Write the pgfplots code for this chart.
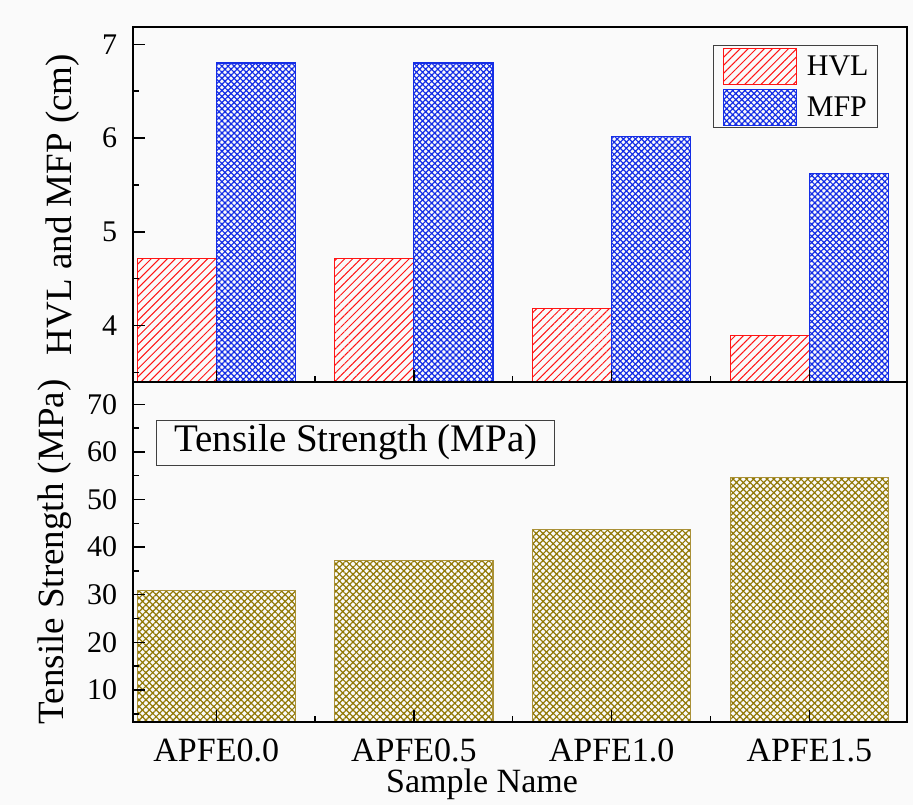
\documentclass[border=0pt]{standalone}
\usepackage{fontspec}
\setmainfont{Liberation Serif}
\usepackage{pgfplots}
\pgfplotsset{compat=1.18}
\usetikzlibrary{patterns.meta}
\definecolor{bgc}{RGB}{250,250,250}
\definecolor{hvlred}{RGB}{255,20,20}
\definecolor{mfpblue}{RGB}{20,45,230}
\definecolor{olivep}{RGB}{145,120,5}
\definecolor{oliveb}{RGB}{170,145,55}
\newcommand{\fs}[1]{\fontsize{#1}{#1}\selectfont}
\pgfplotsset{
  panel/.style={
    scale only axis, width=774pt, anchor=south west,
    xmin=-0.421, xmax=3.494,
    line width=1.8pt, axis on top=true,
    xtick={0,1,2,3}, minor xtick={0.5,1.5,2.5},
    tick style={line width=1.4pt, black},
    major tick length=12pt, minor tick length=6pt,
    tick align=inside,
    xtick pos=bottom, ytick pos=left,
    /pgf/number format/assume math mode=true,
    yticklabel style={font=\fs{30}, inner sep=0pt, xshift=-15pt},
    xticklabel style={font=\fs{34}, inner sep=0pt, yshift=-16pt},
  },
  mylegend/.style={legend image code/.code={\draw[##1] (0pt,-18pt) rectangle (73pt,18pt);}},
}
\begin{document}
\begin{tikzpicture}
\path[use as bounding box, fill=bgc] (0,0) rectangle (913pt,805pt);
% top panel
\begin{axis}[panel, at={(133pt,423pt)}, height=355pt,
  ymin=3.4, ymax=7.184, ytick={4,5,6,7}, minor ytick={3.5,4.5,5.5,6.5},
  xticklabels={},
  ylabel={HVL and MFP (cm)},
  every axis y label/.style={at={(rel axis cs:-0.0685,0.5)}, rotate=90, anchor=south, inner sep=0pt, font=\fs{37}},
  legend style={at={(rel axis cs:0.9625,0.949)}, anchor=north east, draw=black!75, line width=0.9pt,
    fill=bgc, font=\fs{30}, nodes={inner sep=0pt}, row sep=4pt, column sep=10pt,
    inner xsep=9pt, inner ysep=2pt},
  legend cell align=left,
]
\addplot[ybar, bar width=0.4, bar shift=-0.2, draw=hvlred, line width=1.1pt,
  pattern={Lines[angle=45,distance=5.7pt,line width=1.0pt]}, pattern color=hvlred, mylegend]
  coordinates {(0,4.72) (1,4.72) (2,4.18) (3,3.90)};
\addlegendentry{HVL}
\addplot[ybar, bar width=0.4, bar shift=0.2, draw=mfpblue, line width=1.1pt,
  pattern={Hatch[angle=45,distance=4.3pt,line width=1.2pt]}, pattern color=mfpblue, mylegend]
  coordinates {(0,6.80) (1,6.80) (2,6.02) (3,5.62)};
\addlegendentry{MFP}
\end{axis}
% bottom panel
\begin{axis}[panel, at={(133pt,83pt)}, height=340pt,
  ymin=3.28, ymax=74.68, ytick={10,20,30,40,50,60,70}, minor ytick={5,15,25,35,45,55,65},
  xticklabels={APFE0.0,APFE0.5,APFE1.0,APFE1.5},
  ylabel={Tensile Strength (MPa)},
  every axis y label/.style={at={(rel axis cs:-0.0788,0.5)}, rotate=90, anchor=south, inner sep=0pt, font=\fs{37}},
  xlabel={Sample Name},
  every axis x label/.style={at={(rel axis cs:0.451,0)}, anchor=north, inner sep=0pt, yshift=-46pt, font=\fs{34}},
]
\addplot[ybar, bar width=0.8, bar shift=0, draw=oliveb, line width=1.1pt,
  pattern={Hatch[angle=45,distance=4.8pt,line width=1.2pt]}, pattern color=olivep]
  coordinates {(0,30.9) (1,37.1) (2,43.7) (3,54.7)};
\node[draw=black!75, line width=0.9pt, inner sep=0pt, minimum width=398pt, minimum height=45pt, font=\fs{39}]
  at (rel axis cs:0.288,0.822) {Tensile Strength (MPa)};
\end{axis}
\end{tikzpicture}
\end{document}
